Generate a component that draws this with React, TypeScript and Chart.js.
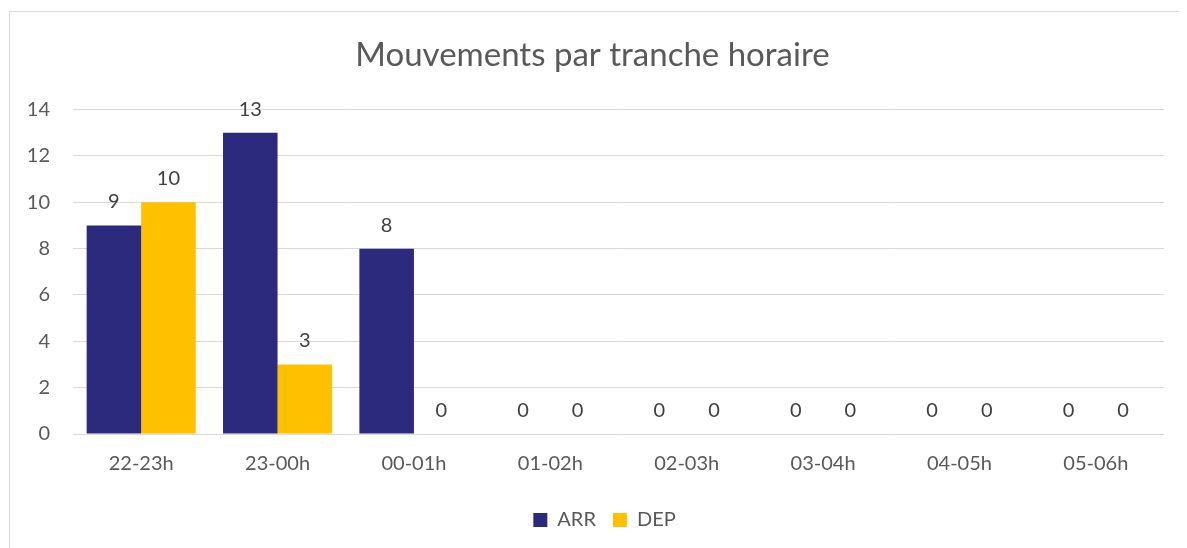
import React, { useEffect, useRef } from "react";
import { Chart, registerables } from "chart.js";

Chart.register(...registerables);

const categories = ["22-23h", "23-00h", "00-01h", "01-02h", "02-03h", "03-04h", "04-05h", "05-06h"];
const arrValues = [9, 13, 8, 0, 0, 0, 0, 0];
const depValues = [10, 3, 0, 0, 0, 0, 0, 0];
const chartTitle = "Mouvements par tranche horaire";

const FONT = "Lato, 'Open Sans', sans-serif";
const TEXT = "#595959";
const GRID = "#d9d9d9";

const valueLabels = {
  id: "valueLabels",
  afterDatasetsDraw(chart: any) {
    const ctx = chart.ctx;
    ctx.save();
    ctx.font = `20px ${FONT}`;
    ctx.fillStyle = "#404040";
    ctx.textAlign = "center";
    ctx.textBaseline = "alphabetic";
    chart.data.datasets.forEach((ds: any, i: number) => {
      const meta = chart.getDatasetMeta(i);
      meta.data.forEach((el: any, j: number) => {
        ctx.fillText(String(ds.data[j]), el.x, el.y - 17);
      });
    });
    ctx.restore();
  },
};

const legendShift = {
  id: "legendShift",
  afterLayout(chart: any) {
    if (chart.legend) {
      chart.legend.left += 12;
      chart.legend.right += 12;
    }
  },
};

export default function App() {
  const ref = useRef<HTMLCanvasElement>(null);
  useEffect(() => {
    if (!ref.current) return;
    const chart = new Chart(ref.current, {
      type: "bar",
      data: {
        labels: categories,
        datasets: [
          { label: "ARR", data: arrValues, backgroundColor: "#2B2A7C", categoryPercentage: 0.8, barPercentage: 1.0 },
          { label: "DEP", data: depValues, backgroundColor: "#FFC000", categoryPercentage: 0.8, barPercentage: 1.0 },
        ],
      },
      options: {
        responsive: false,
        animation: false,
        layout: { padding: { left: 11, right: 23, top: 0, bottom: 8 } },
        plugins: {
          title: {
            display: true,
            text: chartTitle,
            color: TEXT,
            font: { family: FONT, size: 33, weight: "normal" },
            padding: { top: 24, bottom: 34 },
          },
          legend: {
            position: "bottom",
            labels: {
              color: TEXT,
              font: { family: FONT, size: 20 },
              boxWidth: 14,
              boxHeight: 14,
              padding: 17,
            },
          },
          tooltip: { enabled: false },
        },
        scales: {
          x: {
            grid: { display: false, drawTicks: false },
            border: { display: false },
            ticks: { color: TEXT, font: { family: FONT, size: 20 }, padding: 18, maxRotation: 0 },
            afterFit: (s: any) => { s.height = 59; },
          },
          y: {
            min: 0,
            max: 14,
            ticks: { stepSize: 2, color: TEXT, font: { family: FONT, size: 20 }, padding: 23 },
            grid: { color: GRID, lineWidth: 1, drawTicks: false },
            border: { display: false },
            afterFit: (s: any) => { s.width = 52; },
          },
        },
      },
      plugins: [valueLabels, legendShift],
    });
    return () => chart.destroy();
  }, []);
  return (
    <div style={{ marginTop: 3, marginLeft: 1, border: "1px solid #d9d9d9", width: 1200, height: 560, boxSizing: "border-box" }}>
      <canvas ref={ref} width={1177} height={536} style={{ display: "block" }} />
    </div>
  );
}
